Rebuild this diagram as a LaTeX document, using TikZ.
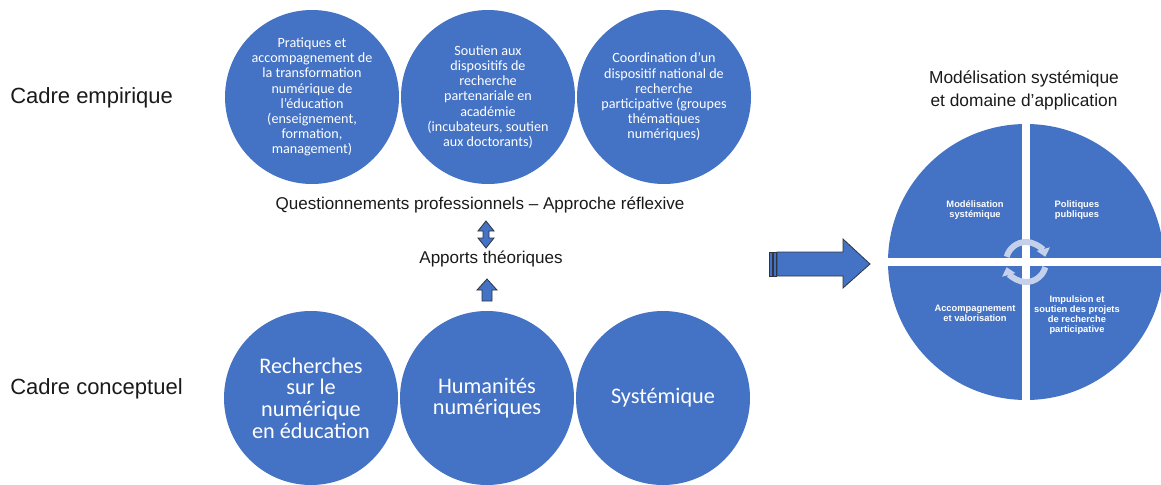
\documentclass[tikz,border=0pt]{standalone}
\usepackage{fontspec}
\setmainfont{Liberation Sans}
\newfontfamily\calfont{Carlito}
\usetikzlibrary{arrows.meta}
\definecolor{obox}{HTML}{4472C4}
\definecolor{cycc}{HTML}{C5D0EA}
\definecolor{arrline}{HTML}{2F3540}
\definecolor{txt}{HTML}{1A1A1A}
\begin{document}
\begin{tikzpicture}[x=0.75pt,y=0.75pt,
 bubble/.style={circle, fill=obox, inner sep=0pt, minimum size=130.5pt, text=white, align=center, font=\calfont\fontsize{10.6}{11.4}\selectfont},
 bigbubble/.style={bubble, font=\calfont\fontsize{16.7}{16.3}\selectfont},
 lbl/.style={text=txt, inner sep=0pt, font=\fontsize{16.5}{20}\selectfont, anchor=west},
 mid/.style={text=txt, inner sep=0pt, align=center, font=\fontsize{12.8}{17.25}\selectfont},
 quad/.style={text=white, align=center, inner sep=0pt, font=\bfseries\fontsize{7}{7.6}\selectfont},
 blockarrow/.style={fill=obox, draw=arrline, line width=0.6pt, line join=miter},
 cycarrow/.style={draw=cycc, line width=4.5pt, -{Triangle[width=10pt,length=6pt]}},
]
\useasboundingbox (0,0) rectangle (1161,-485);

% empirical frame
\node[bubble] (e1) at (312,-97) {Pratiques et\\accompagnement de\\la transformation\\numérique de\\l’éducation\\(enseignement,\\formation,\\management)};
\node[bubble] (e2) at (488,-97) {Soutien aux\\dispositifs de\\recherche\\partenariale en\\académie\\(incubateurs, soutien\\aux doctorants)};
\node[bubble] (e3) at (664,-97) {Coordination d’un\\dispositif national de\\recherche\\participative (groupes\\thématiques\\numériques)};

% conceptual frame
\node[bigbubble] (c1) at (311,-398) {Recherches\\sur le\\numérique\\en éducation};
\node[bigbubble] (c2) at (487,-398) {Humanités\\numériques};
\node[bigbubble] (c3) at (663,-398) {Systémique};

% labels
\node[lbl] (ce) at (10,-98) {Cadre empirique};
\node[lbl] (cc) at (10,-389) {Cadre conceptuel};
\node[mid] (q) at (480,-205) {Questionnements professionnels – Approche réflexive};
\node[mid] (ap) at (491,-259) {Apports théoriques};
\node[mid, font=\fontsize{13}{17.25}\selectfont] (t) at (1024,-90) {Modélisation systémique\\et domaine d’application};

% block arrows
\coordinate (da) at (486,-234.5);
\draw[blockarrow] ([shift={(0,13.5)}]da) -- ++(8,-10) -- ++(-5,0) -- ++(0,-7) -- ++(5,0)
  -- ++(-8,-10) -- ++(-8,10) -- ++(5,0) -- ++(0,7) -- ++(-5,0) -- cycle;
\coordinate (ua) at (487,-279);
\draw[blockarrow] (ua) -- ++(10,-11) -- ++(-5,0) -- ++(0,-11) -- ++(-10,0) -- ++(0,11)
  -- ++(-5,0) -- cycle;
\coordinate (ba) at (870,-264);
\draw[blockarrow] (ba) -- ++(-27,25) -- ++(0,-13) -- ++(-66,0) -- ++(0,-24) -- ++(66,0)
  -- ++(0,-12) -- cycle;
\draw[blockarrow] (769,-252) rectangle (772,-276);
\draw[blockarrow] (773.5,-252) rectangle (776.5,-276);

% systemic model circle
\node[circle, fill=obox, minimum size=207pt, inner sep=0pt] (bc) at (1026,-262) {};
\draw[white, line width=5.5pt] (bc.north) -- (bc.south);
\draw[white, line width=5.5pt] (bc.west) -- (bc.east);
\node[quad] (m1) at (975,-210) {Modélisation\\systémique};
\node[quad] (m2) at (1077,-210) {Politiques\\publiques};
\node[quad] (m3) at (975,-313) {Accompagnement\\et valorisation};
\node[quad] (m4) at (1077,-315) {Impulsion et\\soutien des projets\\de recherche\\participative};
\coordinate (cy) at (1026,-262);
\draw[cycarrow] ([shift={(165:15pt)}]cy) arc[start angle=165, end angle=15, radius=15pt];
\draw[cycarrow] ([shift={(-15:15pt)}]cy) arc[start angle=-15, end angle=-165, radius=15pt];
\end{tikzpicture}
\end{document}
